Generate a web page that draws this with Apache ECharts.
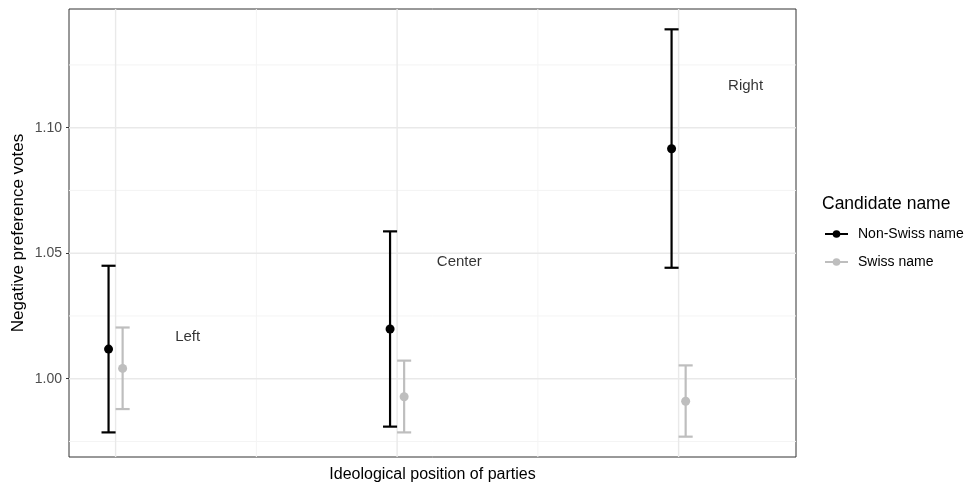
<!DOCTYPE html>
<html>
<head>
<meta charset="utf-8">
<script src="https://cdn.jsdelivr.net/npm/echarts@6/dist/echarts.min.js"></script>
<style>html,body{margin:0;padding:0;background:#fff}#c{width:966px;height:485px}</style>
</head>
<body>
<div id="c"></div>
<script>
// ---- data ----
var groups = ["Left", "Center", "Right"];
var nonSwissMean = [1.0118, 1.0198, 1.0916];
var nonSwissLow  = [0.9786, 0.9809, 1.0442];
var nonSwissHigh = [1.0450, 1.0587, 1.1392];
var swissMean = [1.0041, 0.9928, 0.9910];
var swissLow  = [0.9879, 0.9786, 0.9769];
var swissHigh = [1.0204, 1.0072, 1.0053];
var groupLabelX = [1.256, 2.221, 3.238];
var groupLabelY = [1.0171, 1.0471, 1.1174];
var yTicks = [1.00, 1.05, 1.10];
var yMinor = [0.975, 1.025, 1.075, 1.125];
var xMajor = [1, 2, 3];
var xMinor = [1.5, 2.5];

var dodge = 0.025, capHalf = 0.025;
var FONT = "'Liberation Sans', Arial, sans-serif";

function pts(mean, off) { return mean.map(function (v, i) { return [i + 1 + off, v]; }); }
function bars(lo, hi, off) { return lo.map(function (v, i) { return [i + 1 + off, v, hi[i]]; }); }

function errRender(color, width) {
  return function (params, api) {
    var x = api.value(0);
    var lo = api.coord([x, api.value(1)]);
    var hi = api.coord([x, api.value(2)]);
    var l = api.coord([x - capHalf, 0])[0], r = api.coord([x + capHalf, 0])[0];
    var st = { stroke: color, lineWidth: width };
    return { type: 'group', children: [
      { type: 'line', shape: { x1: lo[0], y1: lo[1], x2: hi[0], y2: hi[1] }, style: st },
      { type: 'line', shape: { x1: l, y1: hi[1], x2: r, y2: hi[1] }, style: st },
      { type: 'line', shape: { x1: l, y1: lo[1], x2: r, y2: lo[1] }, style: st }
    ]};
  };
}
function hGrid(color, width) {
  return function (params, api) {
    var cs = params.coordSys;
    var y = api.coord([1, api.value(1)])[1];
    return { type: 'line', shape: { x1: cs.x, y1: y, x2: cs.x + cs.width, y2: y }, style: { stroke: color, lineWidth: width } };
  };
}
function vGrid(color, width) {
  return function (params, api) {
    var cs = params.coordSys;
    var x = api.coord([api.value(0), 1])[0];
    return { type: 'line', shape: { x1: x, y1: cs.y, x2: x, y2: cs.y + cs.height }, style: { stroke: color, lineWidth: width } };
  };
}

var icon = 'path://M0,3 L24,3 L24,5 L0,5 Z M12,0 A4,4 0 1,1 12,8 A4,4 0 1,1 12,0 Z';

var chart = echarts.init(document.getElementById('c'));
chart.setOption({
  animation: false,
  backgroundColor: '#ffffff',
  textStyle: { fontFamily: FONT },
  title: {
    text: 'Candidate name', left: 822, top: 195, padding: 0,
    textStyle: { fontFamily: FONT, fontSize: 17.5, fontWeight: 'normal', color: '#000' }
  },
  legend: {
    orient: 'vertical', left: 825, top: 227, padding: 0, itemWidth: 23, itemHeight: 8, itemGap: 14,
    data: [{ name: 'Non-Swiss name', icon: icon }, { name: 'Swiss name', icon: icon }],
    textStyle: { fontFamily: FONT, fontSize: 14, color: '#000', padding: [0, 0, 0, 5] }
  },
  grid: { left: 69, top: 9, right: 170, bottom: 28, show: true, borderColor: '#333333', borderWidth: 1, backgroundColor: 'transparent', containLabel: false, outerBoundsMode: 'none' },
  xAxis: {
    type: 'value', min: 0.8345, max: 3.417,
    name: 'Ideological position of parties', nameLocation: 'middle', nameGap: 10,
    nameTextStyle: { fontFamily: FONT, fontSize: 16, color: '#000', verticalAlign: 'top' },
    axisLine: { show: false }, axisTick: { show: false }, axisLabel: { show: false }, splitLine: { show: false }
  },
  yAxis: {
    type: 'value', min: 0.9688, max: 1.1473,
    name: 'Negative preference votes', nameLocation: 'middle', nameGap: 42, nameMoveOverlap: false,
    nameTextStyle: { fontFamily: FONT, fontSize: 17, color: '#000' },
    axisLine: { show: false },
    axisTick: { show: true, length: 3, customValues: yTicks, lineStyle: { color: '#333333', width: 1 } },
    axisLabel: { show: true, customValues: yTicks, margin: 7, fontFamily: FONT, fontSize: 14, color: '#4d4d4d',
      formatter: function (v) { return (+v).toFixed(2); } },
    splitLine: { show: false }
  },
  series: [
    { type: 'custom', name: 'gminy', silent: true, z: 0, data: yMinor.map(function (v) { return [1, v]; }), renderItem: hGrid('#f4f4f4', 1) },
    { type: 'custom', name: 'gminx', silent: true, z: 0, data: xMinor.map(function (v) { return [v, 1]; }), renderItem: vGrid('#f4f4f4', 1) },
    { type: 'custom', name: 'gmajy', silent: true, z: 1, data: yTicks.map(function (v) { return [1, v]; }), renderItem: hGrid('#e9e9e9', 1.4) },
    { type: 'custom', name: 'gmajx', silent: true, z: 1, data: xMajor.map(function (v) { return [v, 1]; }), renderItem: vGrid('#e9e9e9', 1.4) },
    { type: 'custom', name: 'Non-Swiss name', z: 3, data: bars(nonSwissLow, nonSwissHigh, -dodge),
      encode: { x: 0, y: [1, 2] }, renderItem: errRender('#000000', 2.2), itemStyle: { color: '#000000' } },
    { type: 'custom', name: 'Swiss name', z: 3, data: bars(swissLow, swissHigh, dodge),
      encode: { x: 0, y: [1, 2] }, renderItem: errRender('#bebebe', 2.2), itemStyle: { color: '#bebebe' } },
    { type: 'scatter', name: 'Non-Swiss name', z: 4, symbolSize: 9, data: pts(nonSwissMean, -dodge), itemStyle: { color: '#000000', opacity: 1 } },
    { type: 'scatter', name: 'Swiss name', z: 4, symbolSize: 9, data: pts(swissMean, dodge), itemStyle: { color: '#bebebe', opacity: 1 } },
    { type: 'scatter', name: 'labels', z: 5, symbolSize: 1, itemStyle: { color: 'transparent' }, silent: true,
      data: groups.map(function (g, i) { return { name: g, value: [groupLabelX[i], groupLabelY[i]] }; }),
      label: { show: true, position: 'inside', offset: [0, 1.5], formatter: '{b}', fontFamily: FONT, fontSize: 15, color: '#000' } }
  ]
});
</script>
</body>
</html>
